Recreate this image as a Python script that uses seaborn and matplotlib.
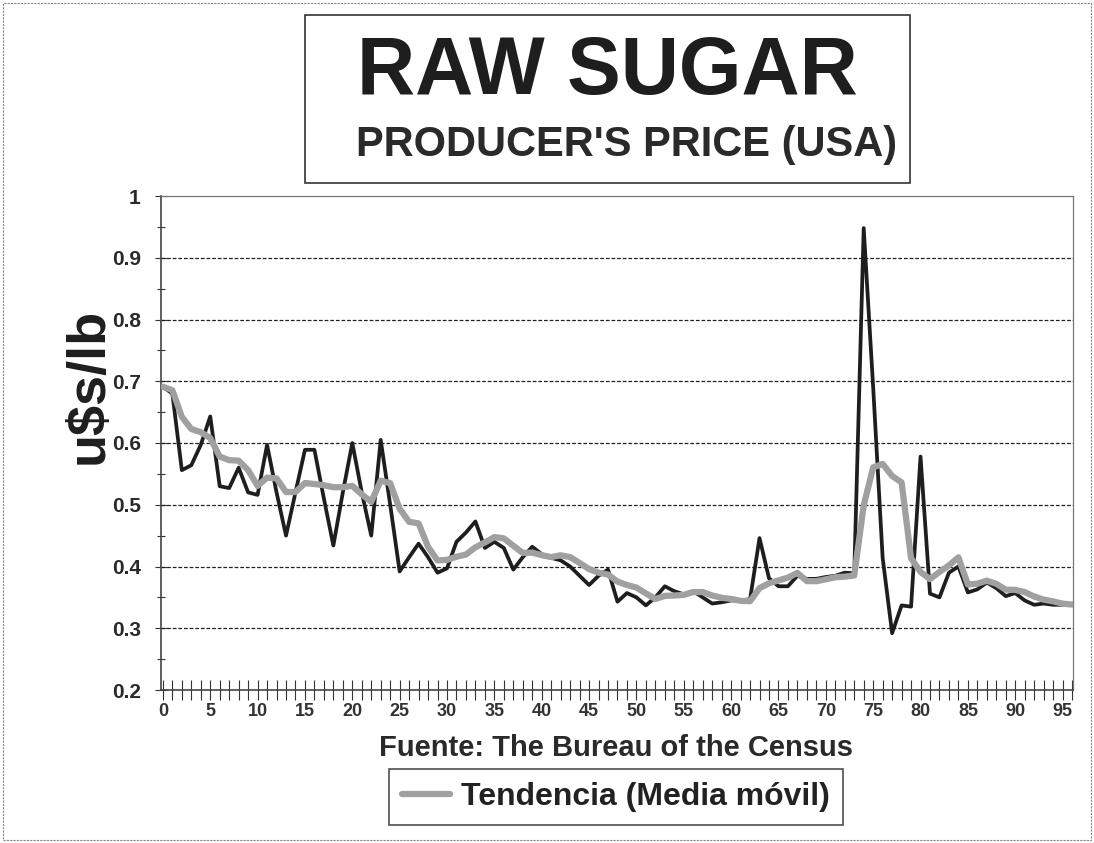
import pandas as pd
import matplotlib.pyplot as plt
import seaborn as sns
from matplotlib.patches import Rectangle
from matplotlib.ticker import MultipleLocator

# Raw sugar producer's price (u$s/lb), one value per period 0..96
price = [0.691, 0.680, 0.556, 0.564, 0.597, 0.643, 0.530, 0.527, 0.560, 0.520,
         0.516, 0.597, 0.520, 0.450, 0.520, 0.589, 0.589, 0.510, 0.434, 0.520,
         0.600, 0.520, 0.450, 0.605, 0.500, 0.392, 0.415, 0.437, 0.415, 0.390,
         0.397, 0.440, 0.455, 0.473, 0.430, 0.440, 0.430, 0.395, 0.415, 0.432,
         0.420, 0.414, 0.410, 0.400, 0.385, 0.370, 0.385, 0.395, 0.343, 0.357,
         0.350, 0.337, 0.350, 0.368, 0.360, 0.355, 0.360, 0.350, 0.340, 0.342,
         0.345, 0.345, 0.347, 0.446, 0.381, 0.368, 0.368, 0.385, 0.380, 0.380,
         0.383, 0.385, 0.390, 0.389, 0.948, 0.690, 0.414, 0.292, 0.337, 0.335,
         0.578, 0.356, 0.350, 0.390, 0.400, 0.358, 0.363, 0.374, 0.365, 0.352,
         0.357, 0.345, 0.338, 0.340, 0.338, 0.338, 0.338]
periods = list(range(len(price)))
x_labels = list(range(0, 96, 5))
y_ticks = [0.2, 0.3, 0.4, 0.5, 0.6, 0.7, 0.8, 0.9, 1.0]
y_labels = ['0.2', '0.3', '0.4', '0.5', '0.6', '0.7', '0.8', '0.9', '1']

df = pd.DataFrame({'t': periods, 'price': price})
# trend line: 5-period moving average
df['trend'] = df['price'].rolling(5, min_periods=1).mean()

sns.set_theme(style='white')
plt.rcParams['font.family'] = ['Liberation Sans', 'DejaVu Sans']

W, H = 1094, 843
fig = plt.figure(figsize=(W / 100, H / 100), dpi=100)
ax = fig.add_axes([161 / W, 1 - 690 / H, (1073 - 161) / W, (690 - 196) / H])

sns.lineplot(data=df, x='t', y='price', color='#1e1e1e', lw=2.7, ax=ax,
             legend=False, zorder=3)
sns.lineplot(data=df, x='t', y='trend', color='#a0a0a0', lw=4.5, ax=ax,
             label='Tendencia (Media móvil)', zorder=4)

ax.set_xlim(-0.2, 96.1)
ax.set_ylim(0.2, 1.0)
ax.set_xticks(x_labels)
ax.set_xticklabels([str(v) for v in x_labels], fontsize=13, fontweight='bold',
                   color='#333333')
ax.xaxis.set_minor_locator(MultipleLocator(1))
ax.set_yticks(y_ticks)
ax.set_yticklabels(y_labels, fontsize=15, fontweight='bold', color='#2a2a2a')
ax.yaxis.set_minor_locator(MultipleLocator(0.05))
ax.tick_params(axis='x', which='both', direction='inout', length=14,
               width=0.8, color='#333333', bottom=True, pad=2)
ax.tick_params(axis='y', which='major', direction='inout', length=9,
               width=0.8, color='#333333', left=True, pad=10)
ax.tick_params(axis='y', which='minor', direction='inout', length=6,
               width=0.8, color='#333333', left=True)
ax.set_xlabel('')
ax.set_ylabel('')

ax.grid(False)
for v in y_ticks[1:-1]:
    ax.axhline(v, color='#222222', lw=0.9, ls=(0, (3, 1.5)), zorder=1)

for side in ['left', 'bottom']:
    ax.spines[side].set_color('#444444')
    ax.spines[side].set_linewidth(1.2)
for side in ['top', 'right']:
    ax.spines[side].set_color('#777777')
    ax.spines[side].set_linewidth(0.9)
    ax.spines[side].set_linestyle((0, (2, 1)))

ax.get_legend().remove()
handles, labels = ax.get_legend_handles_labels()
leg = fig.legend(handles, labels, loc='center', bbox_to_anchor=(616 / W, 1 - 797 / H),
                 frameon=True, fancybox=False, handlelength=1.5, handletextpad=0.35,
                 borderpad=0.4, prop={'size': 23, 'weight': 'bold'})
leg.get_frame().set_edgecolor('#222222')
leg.get_frame().set_linewidth(1.2)
for t in leg.get_texts():
    t.set_color('#222222')

# title box
fig.patches.append(Rectangle((305 / W, 1 - 183 / H), 605 / W, 168 / H,
                             transform=fig.transFigure, fill=False,
                             edgecolor='#333333', lw=1.2))
fig.text(607 / W, 1 - 73 / H, 'RAW SUGAR', ha='center', va='center',
         fontsize=58, fontweight='bold', color='#1e1e1e')
fig.text(627 / W, 1 - 145 / H, "PRODUCER'S PRICE (USA)", ha='center',
         va='center', fontsize=30, fontweight='bold', color='#2a2a2a')

fig.text(89 / W, 1 - 386 / H, 'u$s/lb', rotation=90, ha='center', va='center',
         fontsize=39, fontweight='bold', color='#1e1e1e')
fig.text(616 / W, 1 - 748 / H, 'Fuente: The Bureau of the Census', ha='center',
         va='center', fontsize=21, fontweight='bold', color='#2a2a2a')

# outer chart border
fig.patches.append(Rectangle((3 / W, 3 / H), (W - 6) / W, (H - 6) / H,
                             transform=fig.transFigure, fill=False,
                             edgecolor='#888888', lw=0.8, ls=(0, (2, 1))))

fig.savefig('out.png', dpi=100)
